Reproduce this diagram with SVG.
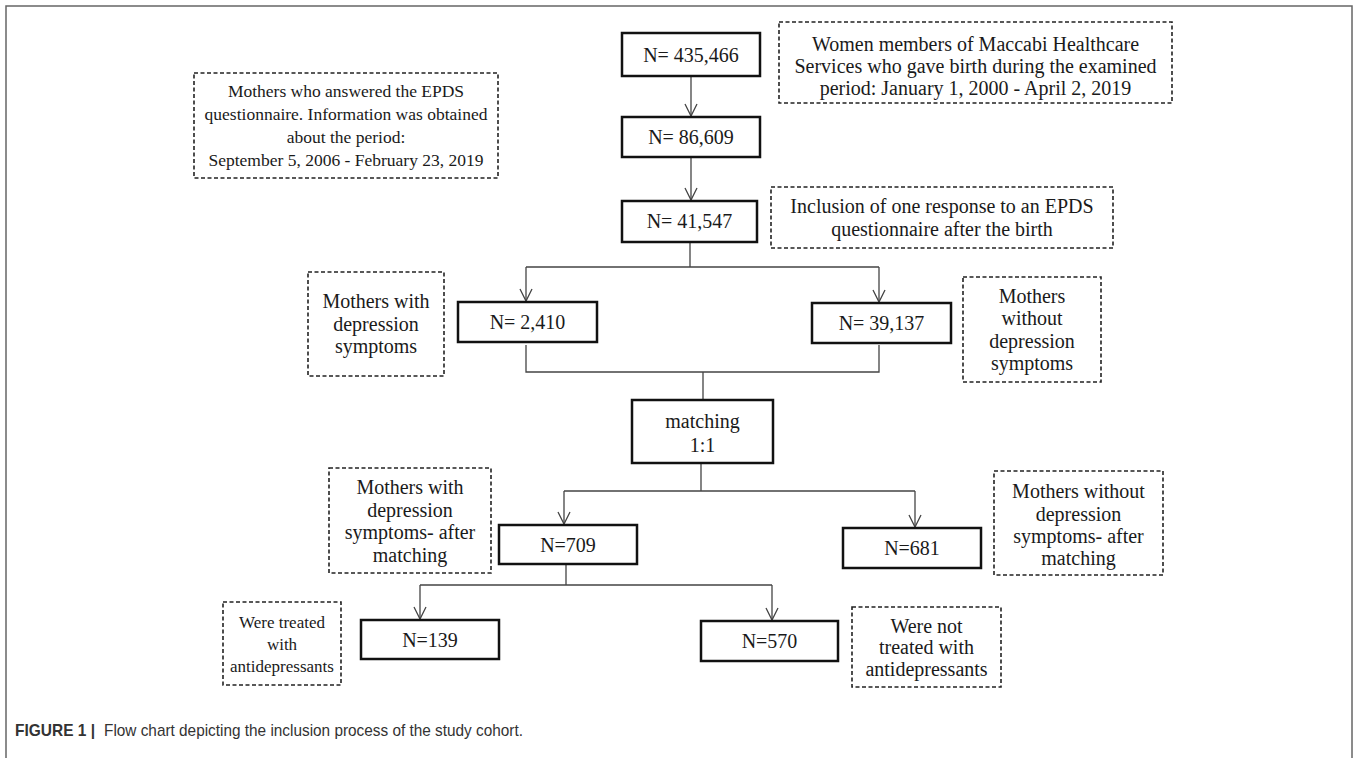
<svg xmlns="http://www.w3.org/2000/svg" width="1357" height="758" viewBox="0 0 1357 758">
<defs>
<style>
.box{fill:#fff;stroke:#111;stroke-width:2.5}
.note{fill:#fff;stroke:#222;stroke-width:1.6;stroke-dasharray:4 2.5}
.t{font-family:"Liberation Serif","Times New Roman",serif;font-size:20px;fill:#1a1a1a;text-anchor:middle}
.s{font-size:17.5px}
.s2{font-size:17px}
.c{fill:none;stroke:#444;stroke-width:1.3}
.a{marker-end:url(#arr)}
.cap{font-family:"Liberation Sans",Arial,sans-serif;fill:#333}
</style>
<marker id="arr" markerUnits="userSpaceOnUse" markerWidth="14" markerHeight="14" refX="12" refY="6" orient="auto" overflow="visible">
<path d="M0,0 L12,6 L0,12" fill="none" stroke="#444" stroke-width="1.3"/>
</marker>
</defs>
<rect width="1357" height="758" fill="#fff"/>
<rect x="6" y="6" width="1346" height="770" fill="none" stroke="#666" stroke-width="1.5"/>

<g id="connectors">
<path class="c a" d="M691,76 V116"/>
<path class="c a" d="M691,157 V200"/>
<path class="c" d="M690,242 V267 M526,267 H879"/>
<path class="c a" d="M526,267 V301"/>
<path class="c a" d="M879,267 V302"/>
<path class="c" d="M526,345 V372 H879 V345 M703,372 V400"/>
<path class="c" d="M701,463 V491 M564,491 H915"/>
<path class="c a" d="M564,491 V524"/>
<path class="c a" d="M915,491 V527"/>
<path class="c" d="M566,564 V585 M420,585 H772"/>
<path class="c a" d="M420,585 V619"/>
<path class="c a" d="M772,585 V620"/>
</g>

<g id="n1"><rect class="box" x="622" y="33" width="138" height="43"/><text class="t" x="691" y="62">N= 435,466</text></g>
<g id="n2"><rect class="box" x="622" y="117" width="138" height="40"/><text class="t" x="691" y="144">N= 86,609</text></g>
<g id="n3"><rect class="box" x="622" y="201" width="135" height="41"/><text class="t" x="689.5" y="228">N= 41,547</text></g>
<g id="n4"><rect class="box" x="458" y="302" width="139" height="40"/><text class="t" x="527.5" y="329">N= 2,410</text></g>
<g id="n5"><rect class="box" x="812" y="303" width="139" height="40"/><text class="t" x="881.5" y="330">N= 39,137</text></g>
<g id="n6"><rect class="box" x="632" y="400" width="141" height="63"/><text class="t" x="702.5" y="428">matching</text><text class="t" x="702.5" y="452">1:1</text></g>
<g id="n7"><rect class="box" x="499" y="525" width="138" height="39"/><text class="t" x="568" y="552">N=709</text></g>
<g id="n8"><rect class="box" x="843" y="528" width="138" height="40"/><text class="t" x="912" y="555">N=681</text></g>
<g id="n9"><rect class="box" x="361" y="620" width="138" height="39"/><text class="t" x="430" y="647">N=139</text></g>
<g id="n10"><rect class="box" x="701" y="621" width="137" height="40"/><text class="t" x="769.5" y="648">N=570</text></g>

<g id="note-top"><rect class="note" x="779" y="22" width="393" height="81"/>
<text class="t" x="975.5" y="51">Women members of Maccabi Healthcare</text>
<text class="t" x="975.5" y="73">Services who gave birth during the examined</text>
<text class="t" x="975.5" y="95">period: January 1, 2000 - April 2, 2019</text></g>
<g id="note-epds"><rect class="note" x="194" y="73" width="304" height="105"/>
<text class="t s" x="346" y="97">Mothers who answered the EPDS</text>
<text class="t s" x="346" y="120">questionnaire. Information was obtained</text>
<text class="t s" x="346" y="143">about the period:</text>
<text class="t s" x="346" y="166">September 5, 2006 - February 23, 2019</text></g>
<g id="note-inclusion"><rect class="note" x="771" y="187" width="342" height="61"/>
<text class="t" x="942" y="213">Inclusion of one response to an EPDS</text>
<text class="t" x="942" y="236">questionnaire after the birth</text></g>
<g id="note-with"><rect class="note" x="308" y="272" width="136" height="104"/>
<text class="t" x="376" y="308">Mothers with</text>
<text class="t" x="376" y="331">depression</text>
<text class="t" x="376" y="353">symptoms</text></g>
<g id="note-without"><rect class="note" x="963" y="277" width="138" height="105"/>
<text class="t" x="1032" y="303">Mothers</text>
<text class="t" x="1032" y="325">without</text>
<text class="t" x="1032" y="348">depression</text>
<text class="t" x="1032" y="370">symptoms</text></g>
<g id="note-with-after"><rect class="note" x="329" y="468" width="162" height="105"/>
<text class="t" x="410" y="494">Mothers with</text>
<text class="t" x="410" y="517">depression</text>
<text class="t" x="410" y="539">symptoms- after</text>
<text class="t" x="410" y="562">matching</text></g>
<g id="note-without-after"><rect class="note" x="994" y="471" width="169" height="104"/>
<text class="t" x="1078.5" y="498">Mothers without</text>
<text class="t" x="1078.5" y="521">depression</text>
<text class="t" x="1078.5" y="543">symptoms- after</text>
<text class="t" x="1078.5" y="565">matching</text></g>
<g id="note-treated"><rect class="note" x="223" y="602" width="118" height="83"/>
<text class="t s2" x="282" y="628">Were treated</text>
<text class="t s2" x="282" y="650">with</text>
<text class="t s2" x="282" y="672">antidepressants</text></g>
<g id="note-not-treated"><rect class="note" x="852" y="607" width="149" height="80"/>
<text class="t" x="926.5" y="633">Were not</text>
<text class="t" x="926.5" y="654">treated with</text>
<text class="t" x="926.5" y="676">antidepressants</text></g>

<text class="cap" x="15" y="736" font-size="17"><tspan font-weight="bold" textLength="80" lengthAdjust="spacingAndGlyphs">FIGURE 1 |</tspan><tspan x="104" textLength="419" lengthAdjust="spacingAndGlyphs">Flow chart depicting the inclusion process of the study cohort.</tspan></text>
</svg>
